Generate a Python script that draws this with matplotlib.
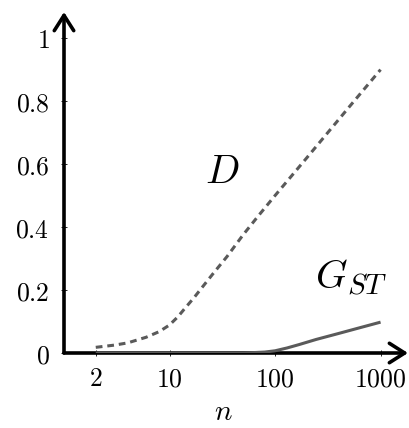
import numpy as np
import matplotlib
matplotlib.use('Agg')
import matplotlib.pyplot as plt
from matplotlib import rcParams

rcParams['mathtext.fontset'] = 'cm'
rcParams['font.family'] = 'serif'

# values
n_d = [2, 3, 4, 6, 8, 10, 12, 14, 17, 20, 26, 35, 50, 70, 100, 200, 500, 1000]
d_vals = [0.018, 0.025, 0.032, 0.05, 0.068, 0.089, 0.115, 0.142, 0.175, 0.205,
          0.253, 0.306, 0.376, 0.437, 0.50, 0.62, 0.78, 0.90]

n_g = [2, 10, 30, 50, 60, 80, 100, 130, 170, 245, 400, 600, 1000]
g_vals = [0.0, 0.0, 0.0, 0.0, 0.001, 0.003, 0.007, 0.016, 0.027, 0.043,
          0.062, 0.078, 0.098]

xticks = [2, 10, 100, 1000]
xlabels = ['$2$', '$10$', '$100$', '$1000$']
yticks = [0, 0.2, 0.4, 0.6, 0.8, 1.0]
ylabels = ['$0$', '$0.2$', '$0.4$', '$0.6$', '$0.8$', '$1$']

gray = '#5a5a5a'
W, H = 410, 428

fig = plt.figure(figsize=(W / 100, H / 100), dpi=100)
ax = fig.add_axes([64/W, 75/H, 344/W, 341/H])
ax.set_xscale('log')
ax.set_xlim(1, 10**3.26)
ax.set_ylim(0, 1.083)

ax.plot(n_g, g_vals, color=gray, lw=2.2, solid_capstyle='butt', zorder=4)
ax.plot(n_d, d_vals, color=gray, lw=2.2, linestyle=(0, (2.2, 1.6)), zorder=4)

for s in ax.spines.values():
    s.set_visible(False)

# axes with arrow heads
arrow = dict(arrowstyle='->,head_length=0.55,head_width=0.35', lw=2.6,
             color='black', shrinkA=0, shrinkB=0, mutation_scale=20)
ax.annotate('', xy=(1, 0), xytext=(0, 0), xycoords='axes fraction',
            arrowprops=arrow, zorder=3, annotation_clip=False)
ax.annotate('', xy=(0, 1), xytext=(0, 0), xycoords='axes fraction',
            arrowprops=arrow, zorder=3, annotation_clip=False)

ax.set_xticks(xticks, xlabels)
ax.set_xticks([], minor=True)
ax.set_yticks(yticks, ylabels)
ax.tick_params(direction='inout', length=5, width=0.6, labelsize=18.5)
ax.tick_params(axis='x', pad=7)
ax.tick_params(axis='y', pad=8)

# axis label and curve names (placed in pixel positions of the figure)
fig.text(223/W, 1 - 420/H, '$n$', fontsize=21, ha='center', va='baseline')
fig.text(205/W, 1 - 183/H, '$D$', fontsize=29, ha='left', va='baseline')
fig.text(315/W, 1 - 288/H, '$G$', fontsize=29, ha='left', va='baseline')
fig.text(347/W, 1 - 294/H, '$ST$', fontsize=21, ha='left', va='baseline')

fig.savefig('out.png', dpi=100)
